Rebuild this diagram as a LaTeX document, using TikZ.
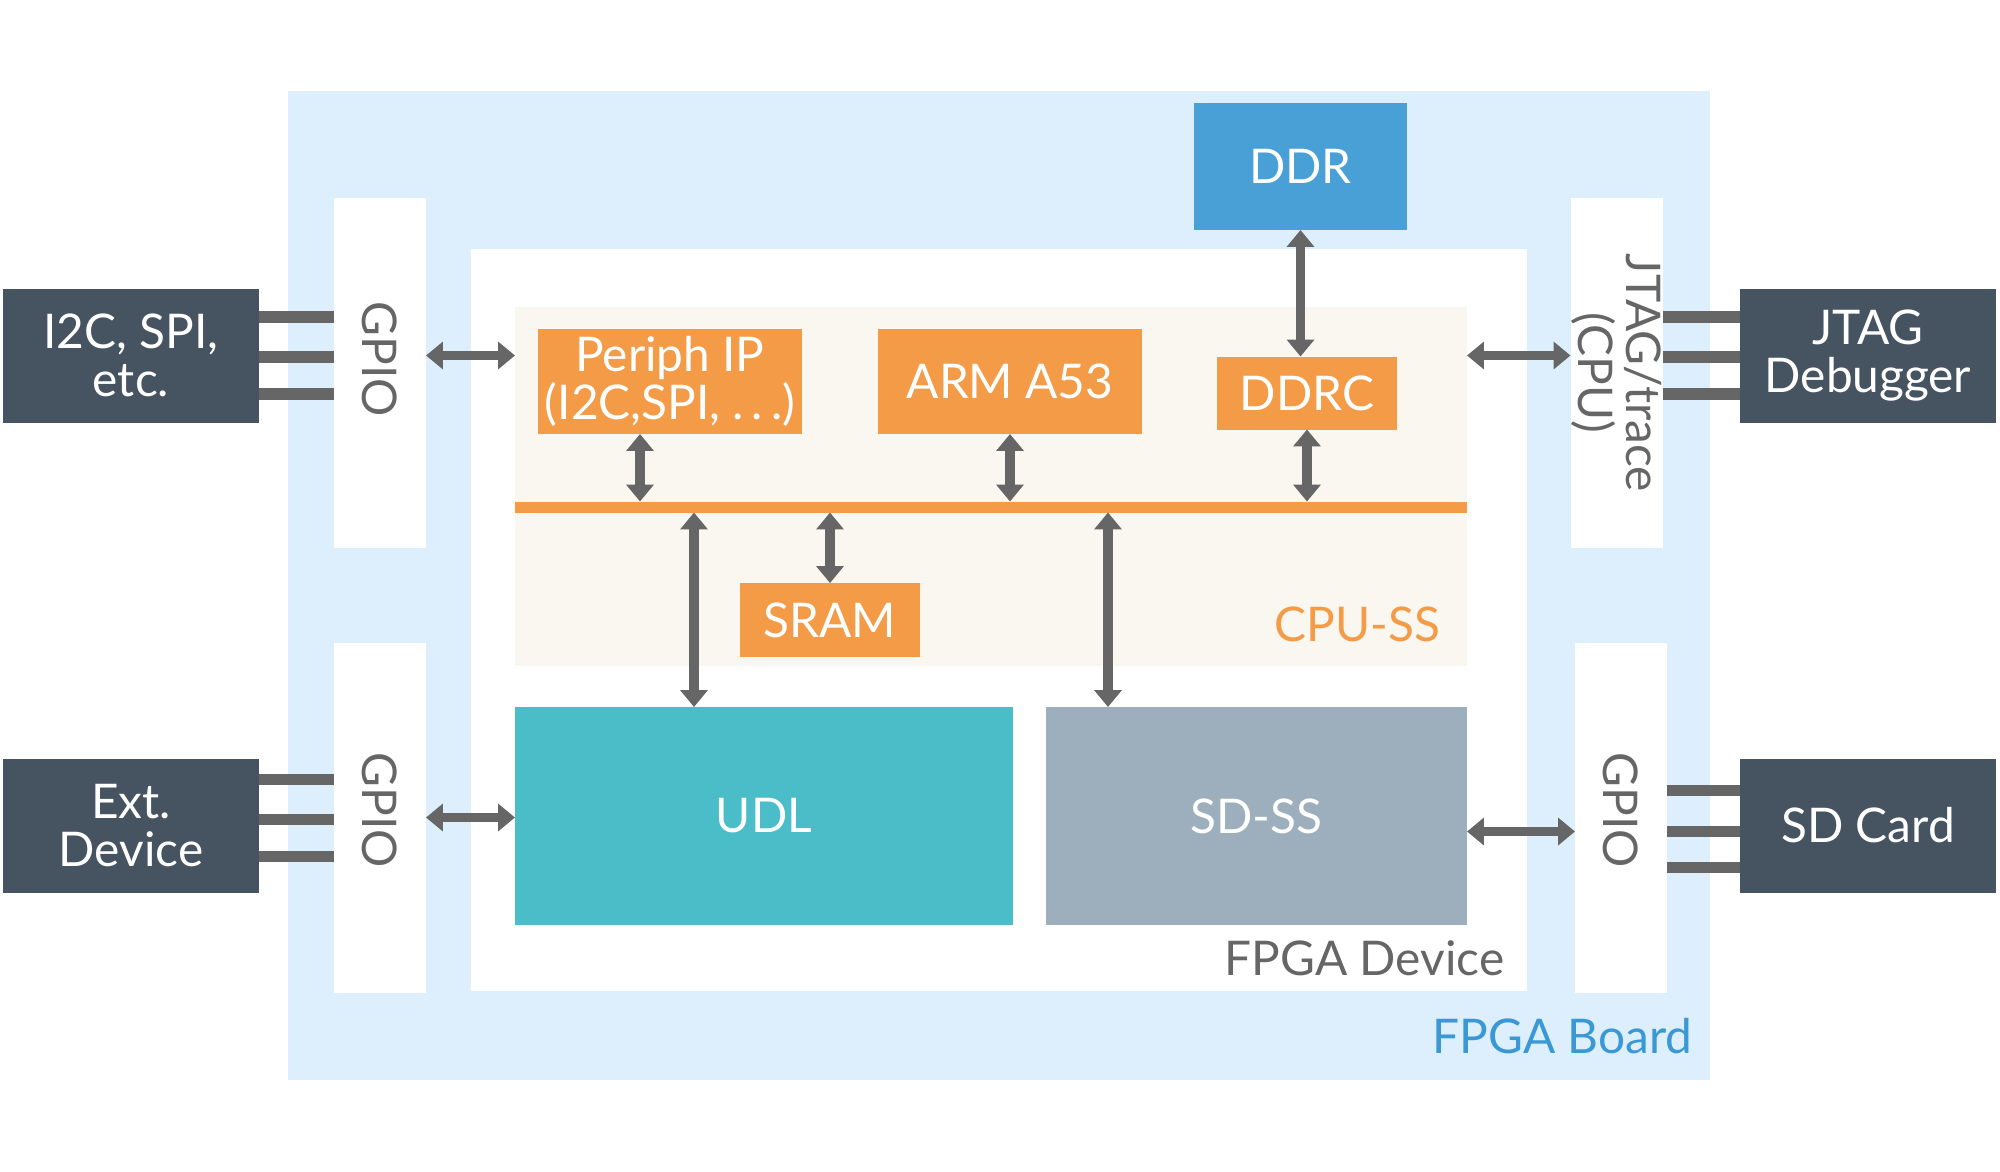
\documentclass[tikz,border=0pt]{standalone}
\usepackage{fontspec}
\setmainfont{Lato}
\usepackage{tikz}
\usetikzlibrary{positioning,arrows.meta,calc}
\definecolor{boardcol}{HTML}{DDEFFC}
\definecolor{cpucol}{HTML}{FAF6F0}
\definecolor{orcol}{HTML}{F49B48}
\definecolor{ddrcol}{HTML}{48A0D6}
\definecolor{udlcol}{HTML}{4BBDC9}
\definecolor{sdcol}{HTML}{9DAFBD}
\definecolor{extcol}{HTML}{465361}
\definecolor{lnkcol}{HTML}{666666}
\definecolor{lblcol}{HTML}{3A98D4}

\begin{document}
\begin{tikzpicture}[font=\fontsize{13.6}{13.6}\selectfont,
   blk/.style={inner sep=0pt,outer sep=0pt,align=center,text=white},
   port/.style={blk,fill=white,minimum width=9.2mm,minimum height=35mm},
   extdev/.style={blk,fill=extcol,minimum width=25.6mm,minimum height=13.4mm},
   core/.style={blk,fill=orcol},
   lnk/.style={<->,draw=lnkcol,line width=2.7pt},
   pin/.style={draw=lnkcol,line width=3.3pt},
   tag/.style={inner sep=0pt,anchor=base east},
   >={Triangle[length=4.8pt,width=7.6pt]},
]
\useasboundingbox (0,0) rectangle (20,-11.71);

% board and device
\node[blk,fill=boardcol,minimum width=142.2mm,minimum height=98.9mm] (board) at (9.99,-5.855) {};
\node[blk,fill=white,minimum width=105.6mm,minimum height=74.2mm] (fpga) at (9.99,-6.2) {};
\node[port,label={[yshift=1.4mm,rotate=-90,text=lnkcol]center:GPIO}] (gpioa) at (3.8,-3.73) {};
\node[port,label={[yshift=0.7mm,rotate=-90,text=lnkcol]center:GPIO}] (gpiob) at (3.8,-8.175) {};
\node[port,label={[rotate=-90,text=lnkcol,align=center]center:{JTAG/trace\\(CPU)}}] (jtag) at (16.165,-3.73) {};
\node[port,label={[yshift=0.7mm,rotate=-90,text=lnkcol]center:GPIO}] (gpioc) at (16.21,-8.175) {};

\node[blk,fill=cpucol,minimum width=95.2mm,minimum height=35.9mm] (cpuss) at (9.91,-4.865) {};
\node[blk,fill=orcol,minimum width=95.2mm,minimum height=1.1mm] (bus) at (9.91,-5.07) {};

\node[core,minimum width=26.4mm,minimum height=10.5mm] (periph) at (6.7,-3.815) {Periph IP\\(I2C,SPI, .\,.\,.)};
\node[core,minimum width=26.4mm,minimum height=10.5mm] (arm) at (10.1,-3.815) {ARM A53};
\node[core,minimum width=18mm,minimum height=7.3mm] (ddrc) at (13.07,-3.93) {DDRC};
\node[core,minimum width=18mm,minimum height=7.4mm] (sram) at (8.3,-6.2) {SRAM};
\node[blk,fill=ddrcol,minimum width=21.3mm,minimum height=12.7mm] (ddr) at (13.005,-1.665) {DDR};
\node[blk,fill=udlcol,minimum width=49.8mm,minimum height=21.8mm] (udl) at (7.64,-8.16) {UDL};
\node[blk,fill=sdcol,minimum width=42.1mm,minimum height=21.8mm] (sdss) at (12.565,-8.16) {SD-SS};

\node[extdev] (i2c) at (1.31,-3.555) {I2C, SPI,\\etc.};
\node[extdev] (ext) at (1.31,-8.255) {Ext.\\Device};
\node[extdev] (jtagdbg) at (18.68,-3.555) {JTAG\\Debugger};
\node[extdev] (sdcard) at (18.68,-8.255) {SD Card};

\node[tag,text=orcol] (cpulbl) at ($(cpuss.south east)+(-0.26,0.25)$) {CPU-SS};
\node[tag,text=lnkcol] (fpgalbl) at ($(fpga.south east)+(-0.22,0.16)$) {FPGA Device};
\node[tag,text=lblcol] (boardlbl) at ($(board.south east)+(-0.17,0.27)$) {FPGA Board};

% pins to the outside
\foreach \dy in {0.385,-0.015,-0.385} {
  \draw[pin] ($(i2c.east)+(0,\dy)$) -- ($(gpioa.west |- i2c.east)+(0,\dy)$);
  \draw[pin] ($(jtagdbg.west)+(0,\dy)$) -- ($(jtag.east |- jtagdbg.west)+(0,\dy)$);
}
\foreach \dy in {0.46,0.06,-0.31}
  \draw[pin] ($(ext.east)+(0,\dy)$) -- ($(gpiob.west |- ext.east)+(0,\dy)$);
\foreach \dy in {0.35,-0.06,-0.42}
  \draw[pin] ($(sdcard.west)+(0,\dy)$) -- ($(gpioc.east |- sdcard.west)+(0,\dy)$);

\draw[lnk] (gpioa.east |- i2c) -- (cpuss.west |- i2c);
\draw[lnk] (cpuss.east |- jtagdbg) -- (jtag.west |- jtagdbg);
\draw[lnk] (gpiob.east) -- (udl.west |- gpiob.east);
\draw[lnk] ($(sdss.east |- sdcard)+(0,-0.06)$) -- ($(gpioc.west |- sdcard)+(0,-0.06)$);

\draw[lnk] (ddr.south) -- (ddr.south |- ddrc.north);
\draw[lnk] ($(periph.south)+(-0.3,0)$) -- ($(periph.south |- bus.north)+(-0.3,0)$);
\draw[lnk] (arm.south) -- (arm.south |- bus.north);
\draw[lnk] (ddrc.south) -- (ddrc.south |- bus.north);
\draw[lnk] (bus.south -| sram.north) -- (sram.north);
\draw[lnk] ($(bus.south -| udl.north west)+(1.79,0)$) -- ($(udl.north west)+(1.79,0)$);
\draw[lnk] ($(bus.south -| sdss.north west)+(0.62,0)$) -- ($(sdss.north west)+(0.62,0)$);
\end{tikzpicture}
\end{document}
